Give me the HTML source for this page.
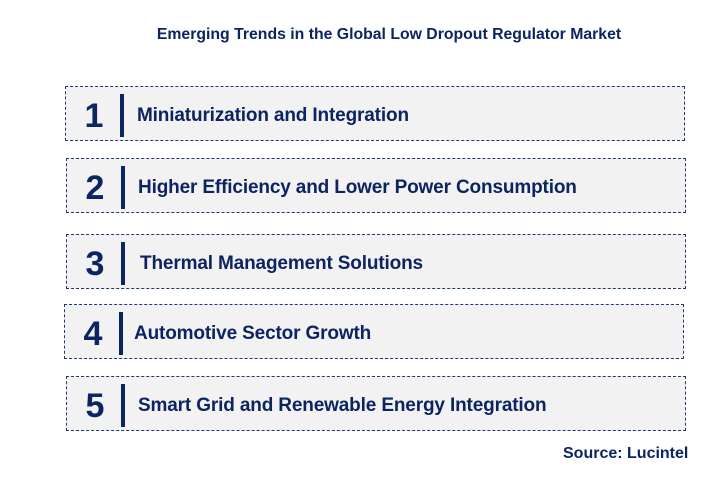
<!DOCTYPE html>
<html><head><meta charset="utf-8"><style>
body{margin:0;width:712px;height:487px;background:#fff;font-family:"Liberation Sans",Arial,sans-serif;position:relative;overflow:hidden}
.t{position:absolute;left:143px;width:492px;top:26px;text-align:center;font-weight:bold;font-size:15.8px;color:#0c2461;white-space:nowrap}
.box{position:absolute;height:55px;width:620px;background:#f2f2f2;border:1px dashed #1f3a6e;box-sizing:border-box}
.n{position:absolute;left:16px;top:10px;font-size:34px;font-weight:bold;color:#0c2461;width:24px;text-align:center}
.bar{position:absolute;left:54px;top:7px;width:4px;height:43px;background:#0c2461}
.lbl{position:absolute;left:71px;top:18px;font-size:19px;font-weight:bold;color:#0c2461;white-space:nowrap;letter-spacing:-0.15px}
.src{position:absolute;left:563px;top:445px;font-size:16px;font-weight:bold;color:#0c2461}
</style></head><body>
<div class="t">Emerging Trends in the Global Low Dropout Regulator Market</div>
<div class="box" style="left:65px;top:86px"><div class="n">1</div><div class="bar"></div><div class="lbl">Miniaturization and Integration</div></div>
<div class="box" style="left:66px;top:158px"><div class="n">2</div><div class="bar"></div><div class="lbl">Higher Efficiency and Lower Power Consumption</div></div>
<div class="box" style="left:66px;top:234px"><div class="n">3</div><div class="bar"></div><div class="lbl" style="left:73px">Thermal Management Solutions</div></div>
<div class="box" style="left:64px;top:304px"><div class="n">4</div><div class="bar"></div><div class="lbl" style="left:69px">Automotive Sector Growth</div></div>
<div class="box" style="left:66px;top:376px"><div class="n">5</div><div class="bar"></div><div class="lbl">Smart Grid and Renewable Energy Integration</div></div>
<div class="src">Source: Lucintel</div>
</body></html>
